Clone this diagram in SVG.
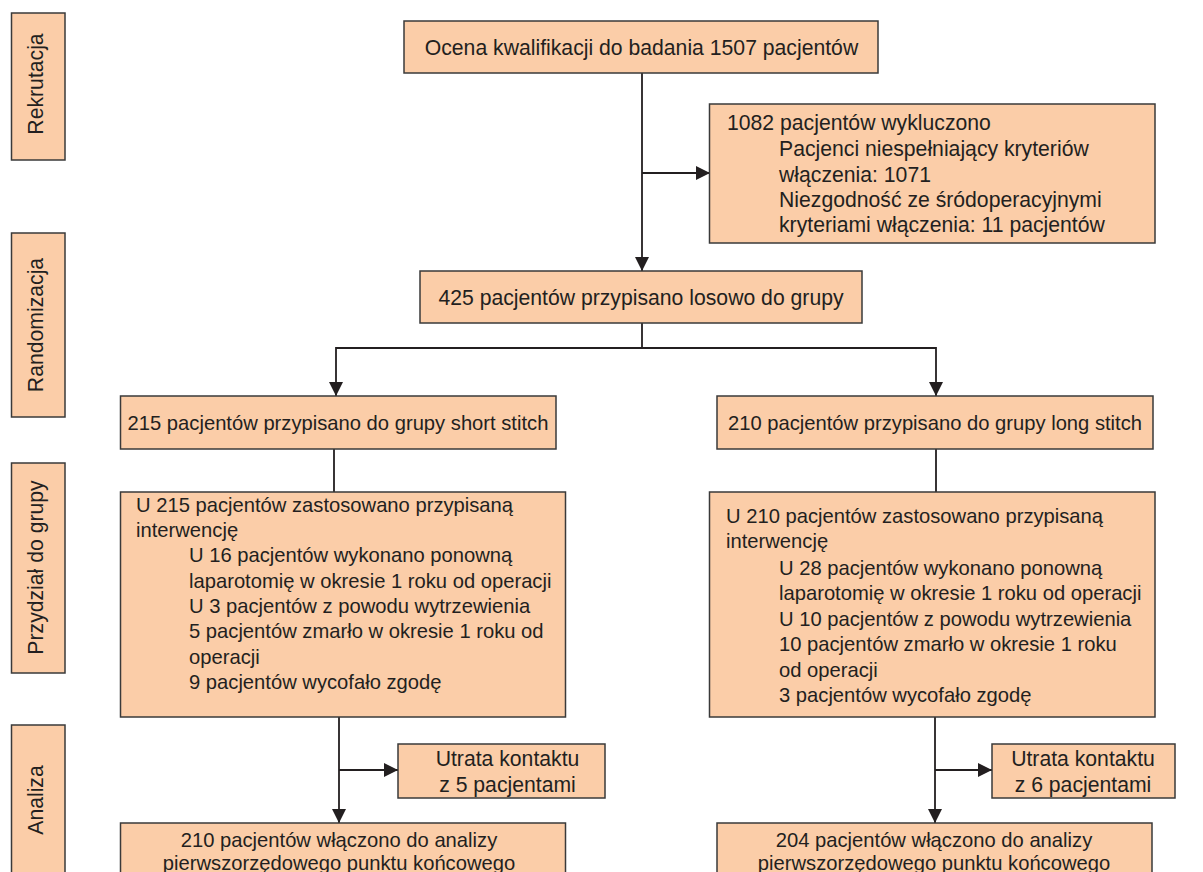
<svg xmlns="http://www.w3.org/2000/svg" width="1203" height="872" viewBox="0 0 1203 872">
<defs>
<style>
.box{fill:#fbcda8;stroke:#3a3a3a;stroke-width:1.5}
.t{font-family:"Liberation Sans",Arial,sans-serif;font-size:20.2px;fill:#231f20}
.L{font-size:21.2px}
.c{text-anchor:middle}
.ln{stroke:#231f20;stroke-width:1.8;fill:none}
</style>
<marker id="ah" viewBox="0 0 10 10" refX="10" refY="5" markerWidth="14" markerHeight="14" markerUnits="userSpaceOnUse" orient="auto"><path d="M0,0 L10,5 L0,10 z" fill="#231f20"/></marker>
</defs>
<rect width="1203" height="872" fill="#fff"/>

<g id="lbl-rekrutacja"><rect class="box" x="11.5" y="13" width="53.5" height="147"/><text class="t L c" transform="translate(43,84) rotate(-90)">Rekrutacja</text></g>
<g id="lbl-randomizacja"><rect class="box" x="11.5" y="233" width="53.5" height="184"/><text class="t L c" transform="translate(43,325) rotate(-90)">Randomizacja</text></g>
<g id="lbl-przydzial"><rect class="box" x="11.5" y="463" width="53.5" height="210"/><text class="t L c" transform="translate(43,567.5) rotate(-90)">Przydział do grupy</text></g>
<g id="lbl-analiza"><rect class="box" x="11.5" y="725" width="53.5" height="160"/><text class="t L c" transform="translate(43,800) rotate(-90)">Analiza</text></g>

<g id="connectors">
<line class="ln" x1="642" y1="73" x2="642" y2="271" marker-end="url(#ah)"/>
<line class="ln" x1="642" y1="173" x2="710" y2="173" marker-end="url(#ah)"/>
<line class="ln" x1="642" y1="323" x2="642" y2="348"/>
<line class="ln" x1="336" y1="348" x2="936" y2="348"/>
<line class="ln" x1="336" y1="347" x2="336" y2="396" marker-end="url(#ah)"/>
<line class="ln" x1="936" y1="347" x2="936" y2="396" marker-end="url(#ah)"/>
<line class="ln" x1="334" y1="449" x2="334" y2="492"/>
<line class="ln" x1="936" y1="449" x2="936" y2="492"/>
<line class="ln" x1="339" y1="717" x2="339" y2="823" marker-end="url(#ah)"/>
<line class="ln" x1="339" y1="770" x2="398" y2="770" marker-end="url(#ah)"/>
<line class="ln" x1="935" y1="717" x2="935" y2="823" marker-end="url(#ah)"/>
<line class="ln" x1="935" y1="770" x2="992" y2="770" marker-end="url(#ah)"/>
</g>

<g id="n-ocena"><rect class="box" x="404" y="21" width="474" height="52"/><text class="t L c" x="641.5" y="55">Ocena kwalifikacji do badania 1507 pacjentów</text></g>

<g id="n-wykluczono"><rect class="box" x="709.5" y="104" width="445.5" height="139"/>
<text class="t L" x="727" y="130">1082 pacjentów wykluczono</text>
<text class="t L" x="779" y="156">Pacjenci niespełniający kryteriów</text>
<text class="t L" x="779" y="181.5">włączenia: 1071</text>
<text class="t L" x="779" y="206.5">Niezgodność ze śródoperacyjnymi</text>
<text class="t L" x="779" y="232">kryteriami włączenia: 11 pacjentów</text>
</g>

<g id="n-randomizacja"><rect class="box" x="420" y="271" width="442" height="52"/><text class="t L c" x="641" y="305">425 pacjentów przypisano losowo do grupy</text></g>

<g id="n-short"><rect class="box" x="120.5" y="396" width="435.5" height="53"/><text class="t c" x="338" y="430">215 pacjentów przypisano do grupy short stitch</text></g>
<g id="n-long"><rect class="box" x="717" y="396" width="436" height="53"/><text class="t c" x="935" y="430">210 pacjentów przypisano do grupy long stitch</text></g>

<g id="n-short-int"><rect class="box" x="120.5" y="492" width="445" height="225"/>
<text class="t" x="136" y="512">U 215 pacjentów zastosowano przypisaną</text>
<text class="t" x="136" y="537">interwencję</text>
<text class="t" x="189" y="562">U 16 pacjentów wykonano ponowną</text>
<text class="t" x="189" y="587.5">laparotomię w okresie 1 roku od operacji</text>
<text class="t" x="189" y="613">U 3 pacjentów z powodu wytrzewienia</text>
<text class="t" x="189" y="638">5 pacjentów zmarło w okresie 1 roku od</text>
<text class="t" x="189" y="663.5">operacji</text>
<text class="t" x="189" y="689">9 pacjentów wycofało zgodę</text>
</g>

<g id="n-long-int"><rect class="box" x="709.5" y="492" width="445.5" height="225"/>
<text class="t" x="726" y="523">U 210 pacjentów zastosowano przypisaną</text>
<text class="t" x="726" y="548">interwencję</text>
<text class="t" x="779" y="574.5">U 28 pacjentów wykonano ponowną</text>
<text class="t" x="779" y="600">laparotomię w okresie 1 roku od operacji</text>
<text class="t" x="779" y="625.5">U 10 pacjentów z powodu wytrzewienia</text>
<text class="t" x="779" y="651">10 pacjentów zmarło w okresie 1 roku</text>
<text class="t" x="779" y="676.5">od operacji</text>
<text class="t" x="779" y="702">3 pacjentów wycofało zgodę</text>
</g>

<g id="n-lost-short"><rect class="box" x="398" y="744" width="207" height="54"/>
<text class="t L c" x="507.5" y="766">Utrata kontaktu</text><text class="t L c" x="507.5" y="792">z 5 pacjentami</text></g>
<g id="n-lost-long"><rect class="box" x="992" y="744" width="183" height="54"/>
<text class="t L c" x="1083" y="766">Utrata kontaktu</text><text class="t L c" x="1083" y="792">z 6 pacjentami</text></g>

<g id="n-analysis-short"><rect class="box" x="120.5" y="823" width="445" height="70"/>
<text class="t c" x="339" y="847">210 pacjentów włączono do analizy</text><text class="t c" x="339" y="870">pierwszorzędowego punktu końcowego</text></g>
<g id="n-analysis-long"><rect class="box" x="717" y="823" width="435" height="70"/>
<text class="t c" x="934" y="847">204 pacjentów włączono do analizy</text><text class="t c" x="934" y="870">pierwszorzędowego punktu końcowego</text></g>
</svg>
